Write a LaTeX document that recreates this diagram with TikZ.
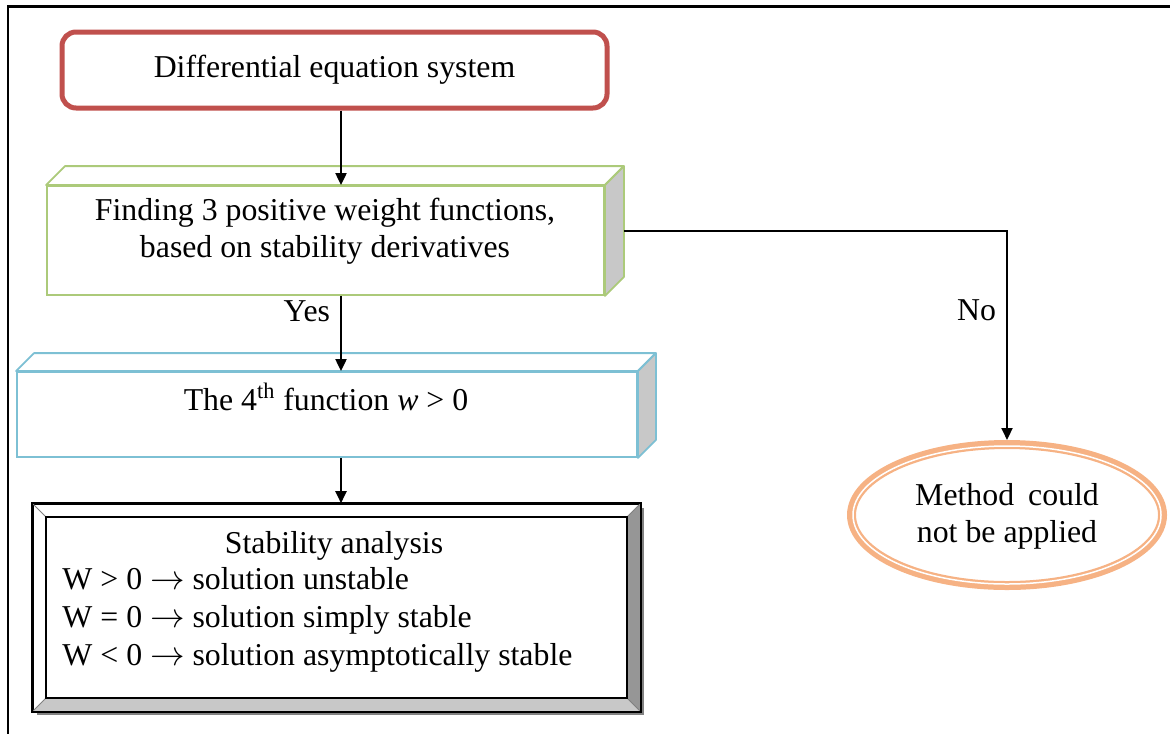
\documentclass[tikz,border=0pt]{standalone}
\usepackage{fontspec}
\setmainfont{Liberation Serif}
\usetikzlibrary{positioning, arrows.meta, shapes.geometric, shadows}
\definecolor{boxred}{RGB}{192,80,77}
\definecolor{boxgreen}{RGB}{172,202,122}
\definecolor{boxblue}{RGB}{125,192,212}
\definecolor{sidegray}{RGB}{200,200,200}
\definecolor{bevelgray}{RGB}{150,150,150}
\definecolor{shadegray}{RGB}{130,130,130}
\definecolor{ovalorange}{RGB}{246,178,132}
\tikzset{
>={Triangle[length=6pt,width=5.5pt]}, % filled arrow heads
every node/.style={font=\fontsize{15.9pt}{18.5pt}\selectfont}, % Times-like text everywhere
flow/.style={line width=1pt, ->}, % the connectors
startbox/.style={draw=boxred, line width=2.5pt, rounded corners=7pt, minimum width=272.5pt, minimum height=38pt, inner sep=0pt},
frontbox/.style={draw=#1, line width=0.9pt, fill=white, inner sep=0pt}, % front face of a 3d box
boxtext/.style={align=center, inner sep=0pt}, % text put on a box
}

\begin{document}
\begin{tikzpicture}[x=0.5pt, y=-0.5pt]
\useasboundingbox (0,0) rectangle (1170,734);
% frame
\draw[line width=1.5pt] (7,6) -- (1170,6);
\draw[line width=1pt] (8,6) -- (8,734);
\coordinate (spine) at (341,0);

% start
\node[startbox] (des) at (334.5,70) {Differential equation system};

% weight functions
\node[frontbox=boxgreen, minimum width=278.5pt, minimum height=54.5pt] (wf) at (325.5,240.5) {};
\draw[boxgreen, line width=0.9pt, fill=white, line join=round] (wf.north west) -- ++(19,-19) -- ([shift={(9.5pt,9.5pt)}]wf.north east) -- (wf.north east) -- cycle;
\draw[boxgreen, line width=0.9pt, fill=sidegray, line join=round] (wf.north east) -- ++(19,-19) -- ([shift={(9.5pt,9.5pt)}]wf.south east) -- (wf.south east) -- cycle;
\node[boxtext] (wft) at (325,231) {Finding 3 positive weight functions,\\based on stability derivatives};

% fourth function
\node[frontbox=boxblue, minimum width=310pt, minimum height=42.5pt] (fw) at (327,414.5) {};
\draw[boxblue, line width=0.9pt, fill=white, line join=round] (fw.north west) -- ++(18,-18) -- ([shift={(9pt,9pt)}]fw.north east) -- (fw.north east) -- cycle;
\draw[boxblue, line width=0.9pt, fill=sidegray, line join=round] (fw.north east) -- ++(18,-18) -- ([shift={(9pt,9pt)}]fw.south east) -- (fw.south east) -- cycle;
\node[boxtext] (fwt) at (326,397) {The 4\textsuperscript{th} function \textit{w} > 0};

% stability analysis
\node[draw, line width=0.8pt, fill=white, minimum width=303.5pt, minimum height=103.5pt, inner sep=0pt,
  drop shadow={shadow xshift=2pt, shadow yshift=-2pt, fill=shadegray, opacity=1}] (sa) at (336.5,607.5) {};
\fill[bevelgray] (sa.north east) -- ([shift={(-7pt,-7pt)}]sa.north east) -- ([shift={(-7pt,7pt)}]sa.south east) -- (sa.south east) -- cycle;
\fill[sidegray] (sa.south west) -- ([shift={(7pt,7pt)}]sa.south west) -- ([shift={(-7pt,7pt)}]sa.south east) -- (sa.south east) -- cycle;
\foreach \a/\sx/\sy in {north west/7/-7, north east/-7/-7, south west/7/7, south east/-7/7}
  \draw[gray, line width=0.4pt] (sa.\a) -- ([shift={(\sx pt,\sy pt)}]sa.\a);
\draw[line width=0.8pt] ([shift={(7pt,-7pt)}]sa.north west) rectangle ([shift={(-7pt,7pt)}]sa.south east);
\draw[line width=0.8pt] (sa.north west) rectangle (sa.south east);
\node[boxtext] (sat) at (334,546) {Stability analysis};
\node[align=left, inner sep=0pt, anchor=west, font=\fontsize{15.9pt}{19pt}\selectfont] (sal) at (62,620)
  {W > 0 $\rightarrow$ solution unstable\\W = 0 $\rightarrow$ solution simply stable\\W < 0 $\rightarrow$ solution asymptotically stable};

% method fails
\node[ellipse, draw=ovalorange, line width=4.5pt, minimum width=155.5pt, minimum height=70.5pt, inner sep=0pt] (mc) at (1007,515) {};
\draw[white, line width=0.75pt] (mc.center) ellipse [x radius=77pt, y radius=34.5pt];
\node[boxtext] (mct) at (1007,516) {Method\hspace{7pt}could\\not be applied};

% connectors
\draw[flow] (des.south -| spine) -- (wf.north -| spine);
\draw[flow] (wf.south -| spine) -- node[pos=0.2, left=5pt, inner sep=0pt] (yes) {Yes} (fw.north -| spine);
\draw[flow] (fw.south -| spine) -- (sa.north -| spine);
\draw[flow] ([shift={(9.5pt,4.75pt)}]wf.east) -| node[pos=0.69, left=5pt, inner sep=0pt] (no) {No} (mc.north);
\end{tikzpicture}
\end{document}
